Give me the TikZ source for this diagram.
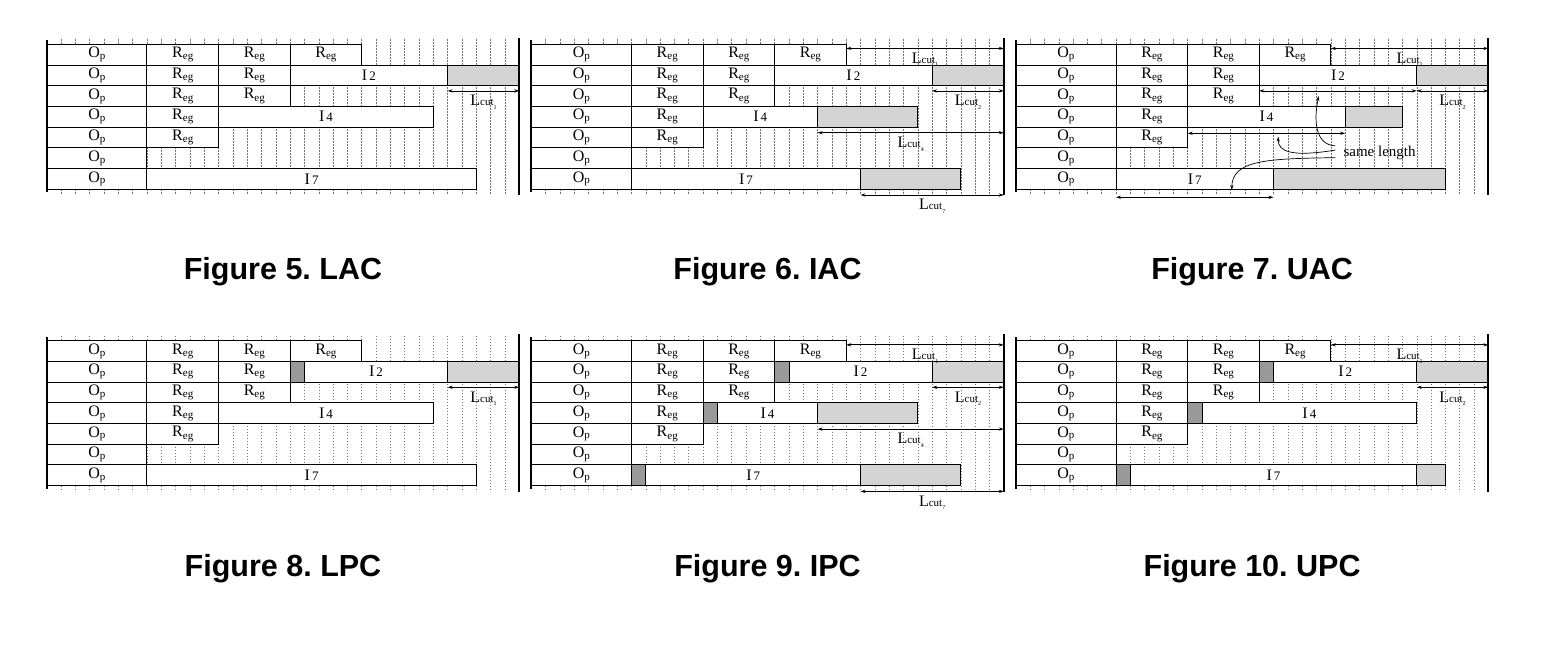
\documentclass[tikz,border=0pt]{standalone}
\usepackage{fontspec}
\setmainfont{Liberation Serif}
\newfontfamily\capfont{Liberation Sans}
\usetikzlibrary{arrows.meta}
\frenchspacing
\tikzset{
  box/.style={draw,line width=0.9pt,fill=white},
  cutbox/.style={draw,line width=0.9pt,fill=black!17},
  padbox/.style={draw,line width=0.9pt,fill=black!40},
  gridline/.style={black!55,line width=0.5pt,dash pattern=on 1.5pt off 1.5pt},
  rimline/.style={line width=1.8pt},
  dim/.style={<->,line width=0.7pt},
  lbl/.style={inner sep=0pt,font=\fontsize{16}{16}\selectfont},
  figcap/.style={font=\fontsize{30.5}{33}\capfont\bfseries}
}
\newcommand{\opname}{O\raisebox{-0.25ex}{\fontsize{11}{11}\selectfont p}}
\newcommand{\regname}{R\raisebox{-0.3ex}{\fontsize{11}{11}\selectfont eg}}
\newcommand{\iname}[1]{I\hspace{2pt}{\fontsize{13}{13}\selectfont #1}}
\newcommand{\cutname}[1]{L{\fontsize{11}{11}\selectfont cut}\raisebox{-0.5ex}{\fontsize{6}{6}\selectfont #1}}
% grid, Op column and Reg boxes of every panel
\newcommand{\panelbase}{%
  \foreach \i in {1,...,32} \draw[gridline] (\i,-0.25) -- (\i,7.25);
  \foreach \r in {1,...,7}
    \draw[box] (0,\r-1) rectangle (7,\r) node[midway,lbl] (op\r) {\opname};
  \foreach \r/\m in {1/3,2/2,3/2,4/1,5/1}
    \foreach \k in {1,...,\m}
      \draw[box] ({2+5*\k},\r-1) rectangle ({7+5*\k},\r) node[midway,lbl] (reg\r\k) {\regname};
}
\newcommand{\paneledge}{%
  \draw[rimline] (0,-0.2) -- (0,7.15);
  \draw[rimline] (33,-0.3) -- (33,7.3);
}
\begin{document}
\begin{tikzpicture}[x=1pt,y=-1pt,>={Stealth[length=5pt,width=3.2pt]}]
\useasboundingbox (0,0) rectangle (1541,650);
% Figure 5
\begin{scope}[shift={(46.7,44.3)},x=14.32pt,y=-20.7pt,name prefix=lac-]
  \panelbase
  \draw[box] (17,1) rectangle (28,2) node[midway,lbl] (i2) {\iname{2}};
  \draw[cutbox] (28,1) rectangle (33,2);
  \draw[box] (12,3) rectangle (27,4) node[midway,lbl] (i4) {\iname{4}};
  \draw[box] (7,6) rectangle (30,7) node[midway,lbl] (i7) {\iname{7}};
  \paneledge
  \draw[dim] (28,2.25) -- (33,2.25) node[midway,below=4pt,lbl] (cut1) {\cutname{1}};
  \node[figcap] (cap) at (16.5,11) {Figure 5. LAC};
\end{scope}
% Figure 6
\begin{scope}[shift={(531.2,44.3)},x=14.32pt,y=-20.7pt,name prefix=iac-]
  \panelbase
  \draw[box] (17,1) rectangle (28,2) node[midway,lbl] (i2) {\iname{2}};
  \draw[cutbox] (28,1) rectangle (33,2);
  \draw[box] (12,3) rectangle (20,4) node[midway,lbl] (i4) {\iname{4}};
  \draw[cutbox] (20,3) rectangle (27,4);
  \draw[box] (7,6) rectangle (23,7) node[midway,lbl] (i7) {\iname{7}};
  \draw[cutbox] (23,6) rectangle (30,7);
  \paneledge
  \draw[dim] (22,0.2) -- (33,0.2) node[midway,below=4pt,lbl] (cut1) {\cutname{1}};
  \draw[dim] (28,2.25) -- (33,2.25) node[midway,below=4pt,lbl] (cut2) {\cutname{2}};
  \draw[dim] (20,4.27) -- (33,4.27) node[midway,below=4pt,lbl] (cut4) {\cutname{4}};
  \draw[dim] (23,7.28) -- (33,7.28) node[midway,below=4pt,lbl] (cut7) {\cutname{7}};
  \node[figcap] (cap) at (16.5,11) {Figure 6. IAC};
\end{scope}
% Figure 7
\begin{scope}[shift={(1015.8,44.3)},x=14.32pt,y=-20.7pt,name prefix=uac-]
  \panelbase
  \draw[box] (17,1) rectangle (28,2) node[midway,lbl] (i2) {\iname{2}};
  \draw[cutbox] (28,1) rectangle (33,2);
  \draw[box] (12,3) rectangle (23,4) node[midway,lbl] (i4) {\iname{4}};
  \draw[cutbox] (23,3) rectangle (27,4);
  \draw[box] (7,6) rectangle (18,7) node[midway,lbl] (i7) {\iname{7}};
  \draw[cutbox] (18,6) rectangle (30,7);
  \paneledge
  \draw[dim] (22,0.2) -- (33,0.2) node[midway,below=4pt,lbl] (cut1) {\cutname{1}};
  \draw[dim] (17,2.25) -- (28,2.25);
  \draw[dim] (28,2.25) -- (33,2.25) node[midway,below=4pt,lbl] (cut2) {\cutname{2}};
  \draw[dim] (12,4.3) -- (23,4.3);
  \draw[dim] (7,7.39) -- (18,7.39);
  \node[lbl,font=\fontsize{15}{15}\selectfont,inner xsep=8pt] (same) at (25.4,5.27) {same length};
  \draw[->,line width=0.7pt] ([yshift=7.5pt]same.west) .. controls (20.9,4.85) and (20.8,3.7) .. (21.15,2.5);
  \draw[->,line width=0.7pt] ([yshift=3.3pt]same.west) .. controls (19.3,5.45) and (18.3,5.2) .. (18.33,4.46);
  \draw[->,line width=0.7pt] ([yshift=-4.3pt]same.west) .. controls (17.5,5.52) and (15.1,5.6) .. (15.08,7.04);
  \node[figcap] (cap) at (16.5,11) {Figure 7. UAC};
\end{scope}
% Figure 8
\begin{scope}[shift={(46.7,340.7)},x=14.32pt,y=-20.7pt,name prefix=lpc-]
  \panelbase
  \draw[padbox] (17,1) rectangle (18,2);
  \draw[box] (18,1) rectangle (28,2) node[midway,lbl] (i2) {\iname{2}};
  \draw[cutbox] (28,1) rectangle (33,2);
  \draw[box] (12,3) rectangle (27,4) node[midway,lbl] (i4) {\iname{4}};
  \draw[box] (7,6) rectangle (30,7) node[midway,lbl] (i7) {\iname{7}};
  \paneledge
  \draw[dim] (28,2.25) -- (33,2.25) node[midway,below=4pt,lbl] (cut1) {\cutname{1}};
  \node[figcap] (cap) at (16.5,11) {Figure 8. LPC};
\end{scope}
% Figure 9
\begin{scope}[shift={(531.2,340.7)},x=14.32pt,y=-20.7pt,name prefix=ipc-]
  \panelbase
  \draw[padbox] (17,1) rectangle (18,2);
  \draw[box] (18,1) rectangle (28,2) node[midway,lbl] (i2) {\iname{2}};
  \draw[cutbox] (28,1) rectangle (33,2);
  \draw[padbox] (12,3) rectangle (13,4);
  \draw[box] (13,3) rectangle (20,4) node[midway,lbl] (i4) {\iname{4}};
  \draw[cutbox] (20,3) rectangle (27,4);
  \draw[padbox] (7,6) rectangle (8,7);
  \draw[box] (8,6) rectangle (23,7) node[midway,lbl] (i7) {\iname{7}};
  \draw[cutbox] (23,6) rectangle (30,7);
  \paneledge
  \draw[dim] (22,0.2) -- (33,0.2) node[midway,below=4pt,lbl] (cut1) {\cutname{1}};
  \draw[dim] (28,2.25) -- (33,2.25) node[midway,below=4pt,lbl] (cut2) {\cutname{2}};
  \draw[dim] (20,4.27) -- (33,4.27) node[midway,below=4pt,lbl] (cut4) {\cutname{4}};
  \draw[dim] (23,7.28) -- (33,7.28) node[midway,below=4pt,lbl] (cut7) {\cutname{7}};
  \node[figcap] (cap) at (16.5,11) {Figure 9. IPC};
\end{scope}
% Figure 10
\begin{scope}[shift={(1015.8,340.7)},x=14.32pt,y=-20.7pt,name prefix=upc-]
  \panelbase
  \draw[padbox] (17,1) rectangle (18,2);
  \draw[box] (18,1) rectangle (28,2) node[midway,lbl] (i2) {\iname{2}};
  \draw[cutbox] (28,1) rectangle (33,2);
  \draw[padbox] (12,3) rectangle (13,4);
  \draw[box] (13,3) rectangle (28,4) node[midway,lbl] (i4) {\iname{4}};
  \draw[padbox] (7,6) rectangle (8,7);
  \draw[box] (8,6) rectangle (28,7) node[midway,lbl] (i7) {\iname{7}};
  \draw[cutbox] (28,6) rectangle (30,7);
  \paneledge
  \draw[dim] (22,0.2) -- (33,0.2) node[midway,below=4pt,lbl] (cut1) {\cutname{1}};
  \draw[dim] (28,2.25) -- (33,2.25) node[midway,below=4pt,lbl] (cut2) {\cutname{2}};
  \node[figcap] (cap) at (16.5,11) {Figure 10. UPC};
\end{scope}
\end{tikzpicture}
\end{document}
